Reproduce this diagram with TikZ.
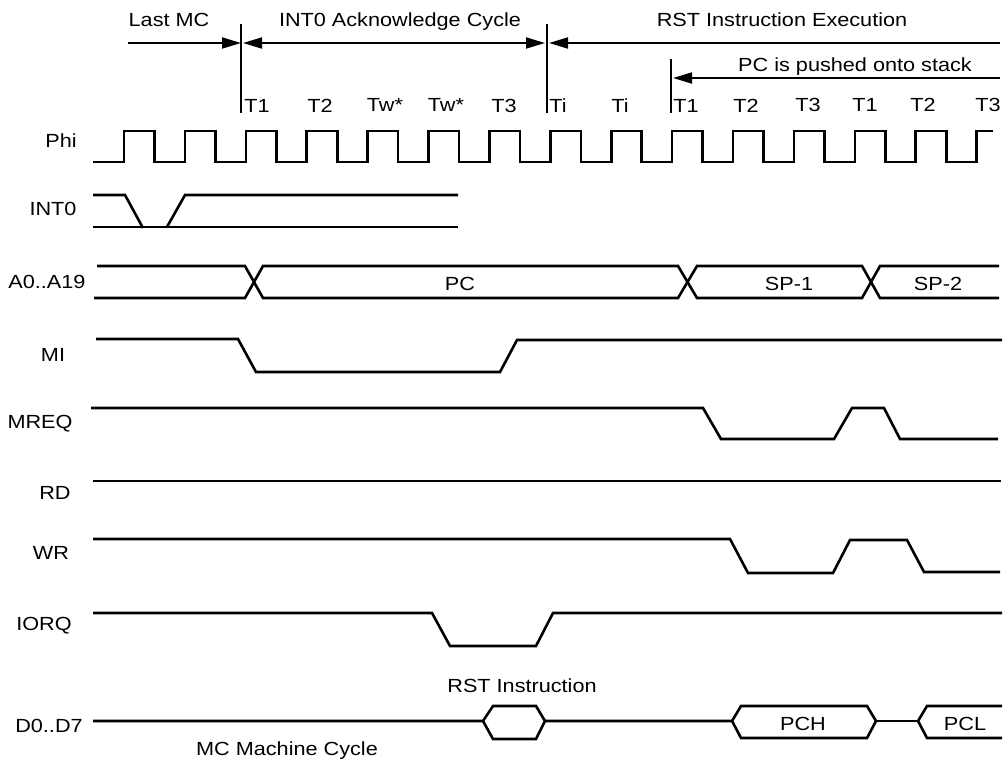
\documentclass[tikz,border=0pt]{standalone}
\usepackage{fontspec}
\setmainfont{Liberation Sans}[FakeStretch=1.14]
\usepackage{tikz}
\usetikzlibrary{arrows.meta}
\tikzstyle{sig}=[line width=2.6pt]
\tikzstyle{cyc}=[line width=1.9pt]
\tikzstyle{cycarrow}=[line width=1.9pt,-{Triangle[length=19pt,width=11pt]}]
\tikzstyle{lbl}=[anchor=base,inner sep=0pt,font=\fontsize{19}{22}\selectfont]

\begin{document}
\begin{tikzpicture}[x=1pt,y=-1pt]
        \useasboundingbox (0,0) rectangle (1008,765);
        % cycle headings
        \node at (169,27) [lbl] (lastmc) {Last MC};
        \node at (400,27) [lbl] (ackcyc) {INT0 Acknowledge Cycle};
        \node at (782,27) [lbl] (rstexe) {RST Instruction Execution};
        \node at (855,72) [lbl] (pushpc) {PC is pushed onto stack};
        \coordinate (m1) at (241,43);
        \coordinate (m2) at (547,43);
        \coordinate (m3) at (671,78);
        \coordinate (lastl) at (128,43);
        \coordinate (rstr) at (1000,43);
        \coordinate (pushr) at (1000,78);
        \draw [cyc] (241,24) -- (241,113);
        \draw [cyc] (547,24) -- (547,113);
        \draw [cyc] (671,59) -- (671,113);
        \draw [cycarrow] (lastl) to (m1);
        \draw [cycarrow,{Triangle[length=19pt,width=11pt]}-{Triangle[length=19pt,width=11pt]}] ([xshift=2pt]m1) to ([xshift=-2pt]m2);
        \draw [cycarrow] (rstr) to ([xshift=2pt]m2);
        \draw [cycarrow] (pushr) to ([xshift=2pt]m3);
        % T states
        \node at (257,113) [lbl] (t1a) {T1};
        \node at (320,113) [lbl] (t2a) {T2};
        \node at (385,111) [lbl] (twa) {Tw*};
        \node at (446,111) [lbl] (twb) {Tw*};
        \node at (504,113) [lbl] (t3a) {T3};
        \node at (558,113) [lbl] (tia) {Ti};
        \node at (620,113) [lbl] (tib) {Ti};
        \node at (686,113) [lbl] (t1b) {T1};
        \node at (746,113) [lbl] (t2b) {T2};
        \node at (808,111) [lbl] (t3b) {T3};
        \node at (865,111) [lbl] (t1c) {T1};
        \node at (923,111) [lbl] (t2c) {T2};
        \node at (988,111) [lbl] (t3c) {T3};
        % signal names
        \node at (61,147) [lbl] (phi) {Phi};
        \node at (53,215) [lbl] (int) {INT0};
        \node at (47,288) [lbl] (abus) {A0..A19};
        \node at (53,361) [lbl] (mi) {MI};
        \node at (40,428) [lbl] (mreq) {MREQ};
        \node at (55,499) [lbl] (rd) {RD};
        \node at (51,559) [lbl] (wr) {WR};
        \node at (44,630) [lbl] (iorq) {IORQ};
        \node at (49,732) [lbl] (dbus) {D0..D7};
        % clock
        \draw [sig] (93,162) \foreach \k in {0,...,13} {
                -- ({124+60.9*\k},162) -- ({124+60.9*\k},131)
                -- ({154.5+60.9*\k},131) -- ({154.5+60.9*\k},162) }
                -- (976.6,162) -- (976.6,131) -- (993,131);
        % INT0
        \draw [sig] (93,195) -- (125,195) -- (143,228);
        \draw [sig] (93,227) -- (458,227);
        \draw [sig] (167,227) -- (185,195) -- (458,195);
        % address bus
        \draw [sig] (97,266) -- (245,266) -- (263,298) -- (678,298) -- (697,266)
                -- (862,266) -- (880,298) -- (999,298);
        \draw [sig] (94,298) -- (245,298) -- (263,266) -- (678,266) -- (697,298)
                -- (862,298) -- (880,266) -- (999,266);
        \node at (460,290) [lbl] (pc) {PC};
        \node at (789,290) [lbl] (sp1) {SP-1};
        \node at (938,290) [lbl] (sp2) {SP-2};
        % control lines
        \draw [sig] (96,339) -- (238,339) -- (256,372) -- (500,372) -- (517,340) -- (1002,340);
        \draw [sig] (91,408) -- (703,408) -- (721,439) -- (834,439) -- (852,408)
                -- (884,408) -- (900,439) -- (998,439);
        \draw [sig] (93,481) -- (1001,481);
        \draw [sig] (93,539) -- (730,539) -- (748,573) -- (833,573) -- (850,540)
                -- (907,540) -- (924,572) -- (1000,572);
        \draw [sig] (93,613) -- (432,613) -- (450,646) -- (536,646) -- (553,613) -- (1002,613);
        % data bus
        \draw [sig] (93,721) -- (483,721) -- (493,706) -- (536,706) -- (545,721)
                -- (536,739) -- (493,739) -- (483,721);
        \draw [sig] (545,721) -- (732,721) -- (741,706) -- (867,706) -- (876,721)
                -- (867,738) -- (741,738) -- (732,721);
        \draw [sig] (876,721) -- (918,721);
        \draw [sig] (1002,706) -- (927,706) -- (918,721) -- (927,738) -- (1002,738);
        \node at (522,692) [lbl] (rstins) {RST Instruction};
        \node at (803,730) [lbl] (pch) {PCH};
        \node at (965,730) [lbl] (pcl) {PCL};
        \node at (287,755) [lbl] (mcnote) {MC Machine Cycle};
      \end{tikzpicture}
\end{document}
